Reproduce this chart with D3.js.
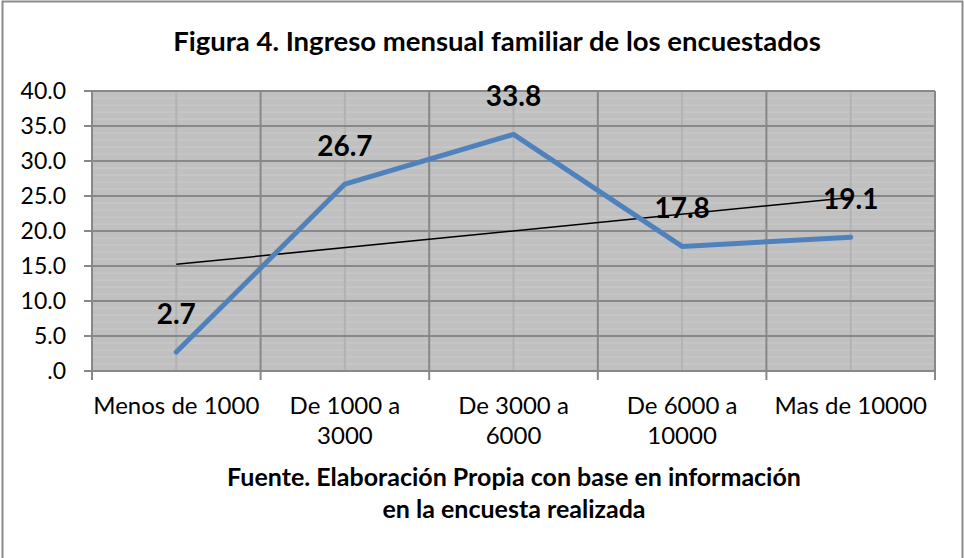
<!DOCTYPE html>
<html>
<head>
<meta charset="utf-8">
<script src="https://cdn.jsdelivr.net/npm/d3@7"></script>
<style>
  body { margin: 0; background: #fff; }
  svg { display: block; font-family: Lato, "Open Sans", sans-serif; }
</style>
</head>
<body>
<svg id="chart"></svg>
<script>
// Data
var categories = ["Menos de 1000", "De 1000 a|3000", "De 3000 a|6000", "De 6000 a|10000", "Mas de 10000"];
var values = [2.7, 26.7, 33.8, 17.8, 19.1];
var yTicks = [0, 5, 10, 15, 20, 25, 30, 35, 40];
var titleText = "Figura 4. Ingreso mensual familiar de los encuestados";
var sourceLines = ["Fuente. Elaboración Propia con base en información", "en la encuesta realizada"];

var width = 964, height = 558;
var margin = {left: 92, right: 29, top: 91, bottom: 187};

var svg = d3.select("#chart")
  .attr("width", width)
  .attr("height", height);

// outer frame
svg.append("rect")
  .attr("x", 2.5).attr("y", 1.5)
  .attr("width", 960).attr("height", 560)
  .attr("fill", "#fff")
  .attr("stroke", "#8c8c8c")
  .attr("stroke-width", 2);

var x = d3.scaleBand()
  .domain(categories)
  .range([margin.left, width - margin.right]);

var y = d3.scaleLinear()
  .domain([0, 40])
  .range([height - margin.bottom, margin.top]);

// plot background
svg.append("rect")
  .attr("x", x.range()[0]).attr("y", y(40))
  .attr("width", x.range()[1] - x.range()[0])
  .attr("height", y(0) - y(40))
  .attr("fill", "#c0c0c0");

// faint minor stripes
svg.append("g")
  .selectAll("line")
  .data(d3.range(1, 40).filter(function(d) { return d % 5 !== 0; }))
  .enter().append("line")
  .attr("x1", x.range()[0]).attr("x2", x.range()[1])
  .attr("y1", function(d) { return y(d); })
  .attr("y2", function(d) { return y(d); })
  .attr("stroke", "#cbcbcb")
  .attr("stroke-width", 1);

// category centre lines (lighter)
svg.append("g")
  .selectAll("line")
  .data(categories)
  .enter().append("line")
  .attr("x1", function(d) { return x(d) + x.bandwidth() / 2; })
  .attr("x2", function(d) { return x(d) + x.bandwidth() / 2; })
  .attr("y1", y(0)).attr("y2", y(40))
  .attr("stroke", "#b2b2b2")
  .attr("stroke-width", 2);

// major gridlines
svg.append("g")
  .selectAll("line")
  .data(yTicks)
  .enter().append("line")
  .attr("x1", x.range()[0] - 8).attr("x2", x.range()[1])
  .attr("y1", function(d) { return y(d); })
  .attr("y2", function(d) { return y(d); })
  .attr("stroke", "#888")
  .attr("stroke-width", 2);

var bounds = categories.map(function(d) { return x(d); }).concat([x.range()[1]]);
svg.append("g")
  .selectAll("line")
  .data(bounds)
  .enter().append("line")
  .attr("x1", function(d) { return d; })
  .attr("x2", function(d) { return d; })
  .attr("y1", y(40)).attr("y2", y(0) + 9)
  .attr("stroke", "#888")
  .attr("stroke-width", 2);

// y tick labels
svg.append("g")
  .selectAll("text")
  .data(yTicks)
  .enter().append("text")
  .attr("x", 66)
  .attr("y", function(d) { return y(d); })
  .attr("dy", "0.36em")
  .attr("text-anchor", "end")
  .attr("font-size", 23)
  .text(function(d) { return d === 0 ? ".0" : d.toFixed(1); });

// x tick labels
var xl = svg.append("g")
  .selectAll("text")
  .data(categories)
  .enter().append("text")
  .attr("text-anchor", "middle")
  .attr("font-size", 24);
xl.each(function(d) {
  var parts = d.split("|");
  var t = d3.select(this);
  parts.forEach(function(p, i) {
    t.append("tspan")
      .attr("x", x(d) + x.bandwidth() / 2)
      .attr("y", 414 + i * 30)
      .text(p);
  });
});

// linear trend line
var n = values.length;
var xs = d3.range(1, n + 1);
var mx = d3.mean(xs), my = d3.mean(values);
var slope = d3.sum(xs, function(v, i) { return (v - mx) * (values[i] - my); }) /
  d3.sum(xs, function(v) { return (v - mx) * (v - mx); });
var icpt = my - slope * mx;

svg.append("line")
  .attr("x1", x(categories[0]) + x.bandwidth() / 2)
  .attr("x2", x(categories[n - 1]) + x.bandwidth() / 2)
  .attr("y1", y(icpt + slope * 1))
  .attr("y2", y(icpt + slope * n))
  .attr("stroke", "#000")
  .attr("stroke-width", 1.5);

// series line
var line = d3.line()
  .x(function(d, i) { return x(categories[i]) + x.bandwidth() / 2; })
  .y(function(d) { return y(d); });

svg.append("path")
  .datum(values)
  .attr("d", line)
  .attr("fill", "none")
  .attr("stroke", "#4f81bd")
  .attr("stroke-width", 5)
  .attr("stroke-linecap", "round")
  .attr("stroke-linejoin", "round");

// data labels
svg.append("g")
  .selectAll("text")
  .data(values)
  .enter().append("text")
  .attr("x", function(d, i) { return x(categories[i]) + x.bandwidth() / 2; })
  .attr("y", function(d) { return y(d) - 28; })
  .attr("text-anchor", "middle")
  .attr("font-size", 28)
  .attr("font-weight", "bold")
  .text(function(d) { return d.toFixed(1); });

// title
svg.append("text")
  .attr("x", 497).attr("y", 51)
  .attr("text-anchor", "middle")
  .attr("font-size", 27.5)
  .attr("font-weight", "bold")
  .text(titleText);

// source note
svg.append("g")
  .selectAll("text")
  .data(sourceLines)
  .enter().append("text")
  .attr("x", 514)
  .attr("y", function(d, i) { return 486 + i * 32; })
  .attr("text-anchor", "middle")
  .attr("font-size", 25)
  .attr("font-weight", "bold")
  .text(function(d) { return d; });
</script>
</body>
</html>
